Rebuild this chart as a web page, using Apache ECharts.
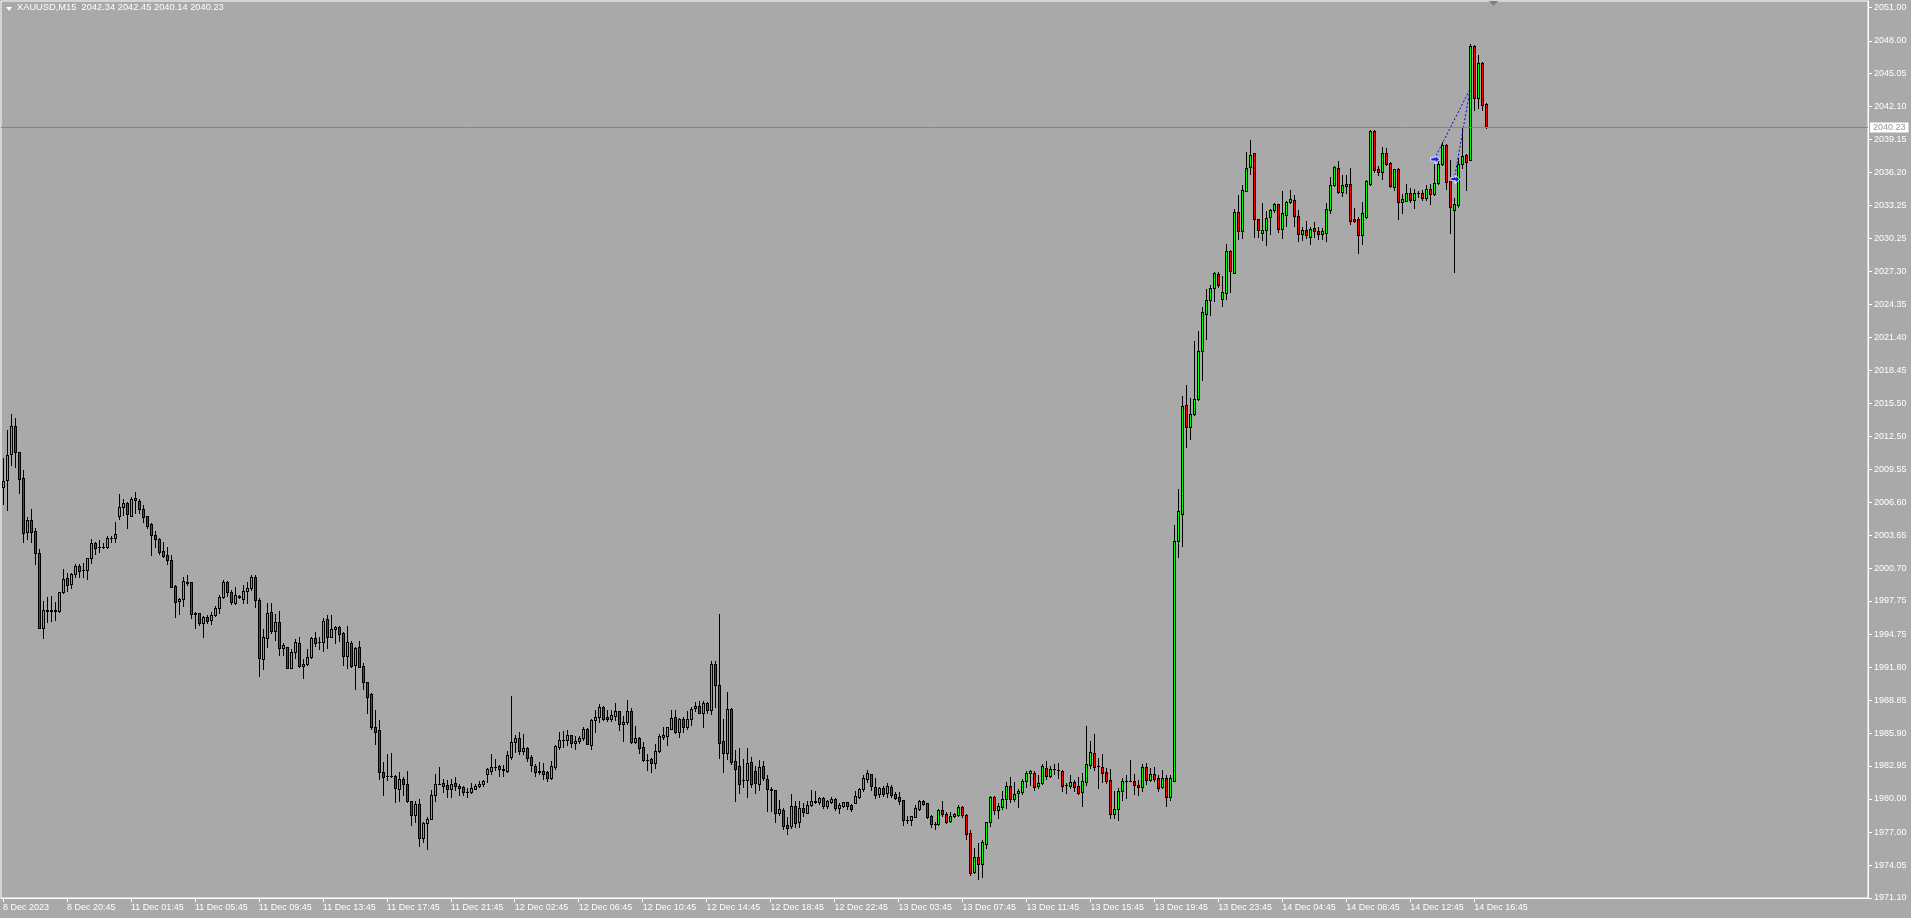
<!DOCTYPE html>
<html>
<head>
<meta charset="utf-8">
<script src="https://cdn.jsdelivr.net/npm/echarts@6/dist/echarts.min.js"></script>
<style>
html,body{margin:0;padding:0;background:#A9A9A9;}
#c{width:1911px;height:918px;}
</style>
</head>
<body>
<div id="c"></div>
<script>
const opens = [
2007.93,2008.56,2010.89,2013.43,2011.07,2008.74,2003.95,2004.97,2004.01,2002.01,
1995.34,1996.87,1996.90,1996.87,1996.81,1998.51,1999.77,1999.23,2000.13,2000.87,
2000.55,2000.49,2001.56,2002.91,2002.58,2002.58,2002.55,2003.36,2003.36,2005.39,
2006.20,2006.58,2005.39,2006.94,2006.70,2005.99,2005.33,2004.64,2003.65,2003.27,
2002.22,2001.86,2001.38,1999.08,1997.71,1997.89,1999.47,1999.44,1996.63,1996.63,
1995.73,1996.30,1996.03,1996.45,1997.08,1998.06,1999.41,1998.51,1997.53,1998.12,
1997.94,1998.63,1998.87,1999.92,1997.83,1992.51,1994.39,1996.72,1995.08,1995.82,
1993.49,1993.58,1991.76,1993.16,1993.97,1991.88,1992.06,1992.69,1994.39,1994.06,
1994.03,1996.09,1994.54,1995.20,1995.38,1994.87,1992.83,1993.97,1991.97,1993.58,
1991.88,1990.44,1989.37,1986.44,1986.14,1982.37,1982.08,1982.08,1982.02,1980.85,
1981.75,1981.30,1979.77,1978.58,1979.50,1976.46,1977.80,1978.16,1980.34,1981.33,
1981.42,1981.24,1980.85,1981.42,1981.15,1981.06,1980.61,1980.64,1980.91,1981.12,
1981.30,1982.19,1982.49,1982.88,1982.91,1982.62,1982.53,1983.72,1985.07,1985.46,
1984.32,1984.56,1983.75,1982.94,1982.44,1982.50,1982.41,1981.90,1982.88,1984.62,
1985.25,1985.25,1985.69,1984.98,1985.16,1985.43,1986.29,1984.86,1987.04,1987.31,
1988.24,1987.34,1987.13,1987.40,1987.85,1986.68,1986.86,1987.88,1985.13,1985.43,
1984.65,1983.48,1983.54,1983.24,1984.26,1985.51,1985.60,1986.29,1987.31,1985.96,
1987.16,1986.47,1987.13,1988.12,1988.30,1987.73,1988.56,1988.00,1992.06,1990.21,
1985.16,1984.14,1988.06,1983.36,1982.91,1981.72,1981.72,1983.27,1982.49,1981.33,
1982.94,1981.75,1980.85,1980.79,1978.70,1978.97,1977.62,1977.56,1979.33,1977.89,
1979.15,1978.76,1979.41,1979.74,1979.68,1980.04,1979.38,1979.74,1979.95,1979.21,
1979.38,1979.68,1979.44,1979.65,1980.13,1980.88,1981.81,1982.22,1981.03,1980.40,
1980.94,1980.49,1981.09,1980.40,1980.13,1979.86,1978.10,1978.07,1978.40,1979.06,
1979.83,1979.62,1978.46,1977.77,1977.77,1978.97,1978.64,1977.98,1978.43,1978.52,
1979.27,1978.55,1976.90,1973.47,1974.78,1974.15,1975.98,1977.89,1980.13,1978.97,
1979.28,1979.95,1981.16,1979.95,1980.49,1980.61,1981.58,1982.29,1982.33,1981.16,
1981.41,1982.75,1982.08,1982.66,1982.58,1982.50,1981.20,1981.16,1981.49,1981.16,
1980.57,1981.54,1983.04,1984.08,1982.91,1982.83,1982.41,1981.66,1978.65,1979.11,
1980.74,1981.58,1981.62,1981.62,1981.28,1981.07,1982.83,1981.70,1982.24,1981.91,
1981.07,1981.91,1980.16,1981.62,2003.13,2005.59,2015.33,2013.36,2014.49,2015.83,
2020.21,2023.51,2024.77,2025.85,2027.06,2024.85,2025.39,2029.15,2027.19,2032.62,
2030.95,2034.54,2036.69,2037.97,2032.05,2030.80,2031.01,2032.20,2032.86,2033.34,
2031.13,2032.41,2033.55,2033.70,2032.26,2030.71,2031.01,2030.44,2031.19,2030.98,
2030.71,2030.80,2032.86,2035.04,2036.60,2034.44,2034.98,2035.19,2032.02,2032.05,
2030.62,2032.23,2035.19,2039.91,2036.54,2036.27,2037.97,2037.04,2034.89,2036.48,
2033.58,2033.64,2034.38,2033.76,2034.32,2034.32,2033.90,2034.74,2034.26,2035.25,
2036.98,2038.69,2035.40,2032.80,2033.28,2036.98,2037.76,2037.34,2047.57,2042.87,
2046.04,2042.34
];
const highs = [
2010.59,2013.07,2014.56,2014.12,2011.10,2009.48,2005.30,2005.99,2004.31,2002.40,
1997.74,1998.12,1998.18,1997.68,1998.57,2000.58,2000.28,2000.28,2001.05,2001.02,
2001.11,2001.62,2003.27,2003.06,2003.21,2002.91,2003.57,2003.57,2004.82,2007.30,
2006.85,2006.64,2007.09,2007.51,2006.91,2006.40,2005.39,2004.76,2004.01,2003.36,
2003.06,2002.58,2001.86,1999.17,1998.04,1999.92,2000.07,1999.47,1996.78,1996.69,
1996.39,1996.48,1996.78,1997.29,1998.27,1999.62,1999.56,1998.72,1999.02,1998.27,
1999.17,1999.47,2000.10,2000.05,1997.98,1995.20,1997.59,1997.53,1996.54,1996.81,
1994.00,1993.64,1993.40,1994.30,1994.51,1992.51,1993.40,1994.54,1994.93,1994.48,
1996.18,1996.48,1996.48,1995.53,1995.50,1994.99,1995.50,1994.15,1993.64,1994.15,
1992.15,1990.50,1989.46,1987.96,1987.07,1983.27,1984.02,1984.08,1982.13,1982.37,
1981.93,1982.49,1979.83,1979.83,1979.98,1977.95,1978.34,1980.79,1982.19,1982.82,
1981.78,1981.69,1981.78,1981.93,1981.33,1981.18,1980.94,1981.39,1981.33,1981.57,
1981.69,1982.73,1984.02,1983.54,1983.00,1983.03,1984.29,1989.22,1985.72,1985.96,
1985.81,1984.68,1983.90,1983.15,1983.27,1983.21,1982.50,1983.39,1984.86,1986.02,
1986.08,1986.17,1985.75,1985.60,1985.60,1986.47,1986.38,1987.19,1987.97,1988.47,
1988.32,1987.97,1987.94,1988.56,1987.85,1987.43,1988.86,1988.12,1986.53,1985.52,
1985.13,1984.02,1983.63,1984.92,1985.78,1986.44,1986.47,1987.97,1987.97,1987.22,
1987.31,1987.91,1988.27,1988.68,1988.77,1988.80,1988.65,1992.36,1992.36,1996.57,
1987.16,1989.55,1988.12,1984.38,1984.53,1983.57,1984.56,1983.72,1982.94,1983.48,
1983.42,1982.14,1981.03,1980.79,1979.89,1979.15,1978.40,1980.43,1979.83,1979.83,
1979.59,1979.83,1980.76,1980.70,1980.19,1980.13,1979.92,1980.19,1980.10,1979.59,
1979.68,1979.74,1979.53,1980.73,1980.94,1982.14,1982.58,1982.22,1981.90,1981.09,
1981.18,1981.42,1981.27,1980.58,1980.64,1979.89,1978.46,1978.46,1979.44,1979.89,
1979.92,1979.62,1978.55,1977.89,1979.09,1979.83,1978.82,1978.79,1978.76,1979.44,
1979.33,1978.64,1977.20,1975.59,1976.07,1976.31,1977.89,1980.28,1980.25,1979.59,
1980.74,1981.49,1981.99,1981.49,1980.86,1981.79,1982.45,1982.62,1982.45,1982.12,
1983.08,1983.37,1982.96,1983.16,1983.24,1982.62,1981.41,1982.12,1981.70,1981.99,
1982.33,1986.51,1985.17,1985.84,1983.66,1984.00,1982.75,1982.66,1980.66,1980.99,
1981.83,1982.12,1983.50,1982.24,1981.70,1983.16,1983.24,1982.75,1982.87,1982.12,
1982.62,1982.12,1982.12,2004.59,2007.81,2016.16,2017.16,2015.95,2021.05,2022.01,
2024.10,2025.77,2026.10,2027.23,2027.23,2026.94,2029.74,2029.24,2032.87,2034.21,
2035.04,2038.01,2039.08,2037.97,2032.05,2033.49,2032.71,2032.89,2033.46,2033.40,
2034.50,2033.61,2034.59,2034.20,2032.86,2031.31,2031.84,2031.31,2031.75,2031.31,
2031.25,2033.46,2035.79,2036.75,2037.19,2035.99,2035.97,2036.63,2033.01,2032.20,
2033.58,2035.49,2040.03,2040.03,2036.75,2038.48,2038.42,2037.13,2036.51,2036.63,
2034.29,2035.19,2034.83,2034.68,2034.50,2034.65,2035.04,2035.19,2036.98,2037.43,
2038.96,2038.78,2037.28,2033.93,2037.52,2040.21,2037.88,2047.68,2047.65,2046.70,
2046.10,2042.45
];
const lows = [
2006.43,2005.90,2009.93,2009.78,2007.39,2003.06,2003.33,2003.06,2001.02,1995.30,
1994.45,1995.88,1995.97,1996.03,1996.80,1998.42,1998.66,1998.93,1999.92,1999.86,
1999.92,1999.74,2001.17,2001.92,2002.16,2002.46,2002.46,2003.06,2003.06,2005.09,
2005.45,2004.31,2005.39,2005.66,2005.60,2004.85,2004.31,2001.89,2002.61,2001.95,
2001.71,2001.02,1999.00,1996.33,1996.60,1997.29,1999.17,1996.18,1995.28,1995.58,
1994.48,1995.73,1995.64,1996.39,1996.63,1997.97,1998.21,1997.47,1997.47,1997.97,
1997.53,1997.53,1998.70,1997.23,1991.04,1991.61,1993.64,1994.90,1994.24,1992.86,
1992.89,1991.70,1991.70,1992.66,1991.85,1990.86,1992.00,1992.60,1993.70,1993.43,
1993.28,1993.55,1994.54,1994.00,1994.18,1992.00,1991.70,1991.79,1989.88,1991.79,
1989.82,1987.72,1986.23,1984.91,1981.78,1980.37,1981.69,1981.99,1979.74,1979.80,
1980.34,1979.74,1977.65,1977.95,1975.80,1976.10,1975.53,1978.16,1979.83,1981.33,
1980.64,1980.13,1980.13,1980.79,1980.31,1980.34,1980.13,1980.49,1980.85,1981.03,
1981.18,1981.48,1982.22,1982.58,1982.07,1982.08,1982.44,1983.60,1984.23,1984.02,
1983.99,1983.39,1982.53,1982.08,1982.23,1981.81,1981.60,1981.78,1982.70,1984.44,
1984.68,1984.83,1984.68,1984.44,1984.98,1985.31,1984.92,1984.50,1986.02,1986.92,
1987.07,1986.98,1986.98,1987.10,1986.20,1985.19,1986.68,1985.04,1985.04,1984.11,
1983.42,1982.59,1982.44,1982.79,1984.20,1985.40,1984.83,1986.23,1985.87,1985.57,
1985.96,1986.23,1986.62,1987.88,1987.67,1986.47,1987.67,1987.61,1988.27,1983.69,
1982.41,1983.60,1983.09,1979.84,1980.49,1981.03,1980.19,1981.09,1980.49,1980.79,
1981.69,1978.94,1978.94,1977.89,1978.55,1977.29,1976.87,1977.38,1977.50,1977.50,
1978.46,1978.70,1979.36,1979.65,1979.53,1979.21,1979.15,1979.65,1978.97,1978.76,
1979.24,1979.12,1978.94,1979.59,1980.10,1980.70,1981.54,1980.79,1980.10,1980.19,
1980.25,1980.19,1980.19,1979.98,1979.53,1977.68,1977.80,1977.68,1978.34,1979.03,
1979.47,1978.28,1977.44,1977.29,1977.68,1978.46,1977.80,1977.89,1978.34,1978.46,
1978.34,1976.43,1973.20,1973.32,1972.84,1973.02,1975.56,1977.59,1978.61,1978.31,
1979.07,1979.20,1979.74,1979.82,1979.28,1980.45,1981.07,1981.20,1980.78,1980.99,
1981.33,1981.79,1981.99,1982.24,1981.83,1980.66,1980.49,1980.99,1980.66,1980.45,
1979.32,1981.28,1982.75,1982.62,1980.99,1981.49,1981.41,1978.24,1978.24,1978.07,
1979.90,1980.11,1981.58,1980.40,1980.36,1980.74,1981.37,1981.58,1981.58,1980.66,
1980.99,1979.32,1979.90,1981.62,2001.67,2002.67,2011.57,2012.32,2014.41,2015.74,
2017.54,2021.26,2023.39,2024.64,2025.94,2024.22,2024.85,2025.43,2027.19,2030.24,
2030.28,2034.50,2036.09,2030.41,2030.41,2030.11,2029.66,2030.65,2032.65,2030.86,
2030.35,2031.37,2033.46,2031.39,2030.05,2030.11,2030.35,2029.81,2030.41,2030.26,
2030.26,2030.05,2032.56,2035.01,2034.35,2034.08,2034.35,2031.60,2031.75,2028.97,
2029.81,2032.14,2035.10,2036.27,2036.00,2035.58,2036.83,2034.89,2034.59,2032.02,
2032.56,2033.61,2033.55,2032.98,2033.99,2033.70,2033.76,2033.37,2034.17,2035.19,
2036.83,2034.74,2030.77,2027.27,2033.10,2036.63,2034.59,2037.28,2041.83,2042.01,
2041.77,2040.14
];
const closes = [
2008.50,2010.83,2013.43,2011.07,2008.71,2003.80,2004.97,2003.95,2002.01,1995.34,
1996.90,1996.90,1996.87,1996.90,1998.51,1999.68,1999.14,2000.19,2000.87,2000.46,
2000.52,2001.56,2002.91,2002.46,2002.58,2002.58,2003.36,2003.39,2003.71,2006.20,
2006.58,2005.51,2006.85,2006.76,2006.02,2005.30,2004.49,2003.68,2003.27,2002.16,
2001.80,2001.38,1999.02,1997.68,1997.92,1999.53,1999.38,1996.54,1996.60,1995.73,
1996.27,1995.97,1996.48,1997.08,1998.06,1999.41,1998.57,1997.62,1998.24,1998.15,
1998.63,1998.93,1999.92,1997.83,1992.60,1994.48,1996.63,1995.08,1995.82,1993.55,
1993.76,1991.76,1993.16,1994.03,1991.88,1992.09,1992.69,1994.39,1994.00,1994.06,
1995.94,1994.54,1995.20,1995.38,1994.81,1992.83,1994.06,1991.94,1993.49,1991.85,
1990.44,1989.10,1986.47,1986.02,1982.43,1981.99,1982.08,1982.08,1980.94,1981.75,
1981.30,1979.77,1978.52,1979.50,1976.46,1977.80,1978.19,1980.34,1981.30,1981.36,
1981.18,1980.85,1981.30,1981.12,1980.94,1980.58,1980.61,1980.94,1981.12,1981.33,
1981.60,1982.67,1982.85,1982.88,1982.64,1982.65,1983.93,1985.07,1985.46,1984.32,
1984.56,1983.69,1983.00,1982.44,1982.47,1982.26,1981.90,1982.91,1984.74,1985.28,
1985.25,1985.69,1984.98,1985.19,1985.49,1986.29,1984.95,1987.07,1987.34,1988.24,
1987.19,1987.13,1987.49,1987.85,1986.68,1986.89,1987.85,1985.13,1985.43,1984.59,
1983.51,1983.48,1983.24,1984.26,1985.63,1985.69,1986.41,1987.25,1985.96,1987.16,
1986.47,1987.16,1988.06,1988.30,1987.73,1988.56,1988.00,1992.06,1990.21,1985.04,
1984.14,1988.06,1983.33,1982.65,1981.36,1981.72,1983.18,1981.33,1981.39,1982.82,
1981.84,1980.85,1980.82,1978.70,1979.06,1977.59,1977.41,1979.33,1977.80,1979.15,
1978.79,1979.44,1979.80,1979.77,1980.04,1979.38,1979.80,1979.98,1979.18,1979.44,
1979.68,1979.36,1979.12,1980.22,1980.85,1981.84,1982.31,1981.12,1980.34,1980.94,
1980.46,1981.15,1980.34,1980.10,1979.83,1978.07,1978.10,1978.43,1979.15,1979.80,
1979.56,1978.34,1977.71,1977.77,1979.00,1978.61,1977.92,1978.46,1978.64,1979.27,
1978.52,1976.87,1973.38,1974.75,1974.18,1976.13,1977.89,1980.16,1978.97,1979.33,
1979.95,1981.16,1979.95,1980.45,1980.66,1981.58,1982.33,1982.45,1981.07,1981.45,
1982.96,1982.04,1982.70,1982.70,1982.54,1981.16,1981.20,1981.49,1981.07,1980.53,
1981.58,1983.08,1984.17,1982.87,1982.91,1982.29,1981.58,1978.65,1979.11,1980.74,
1981.62,1981.58,1981.62,1981.24,1981.03,1982.83,1981.70,1982.24,1981.79,1980.99,
1981.91,1980.16,1981.83,2003.13,2005.84,2015.20,2013.36,2014.49,2015.83,2020.21,
2023.68,2024.77,2025.81,2027.15,2026.10,2025.43,2029.15,2027.36,2032.62,2030.95,
2034.62,2036.63,2037.73,2032.02,2031.01,2031.07,2032.14,2032.86,2033.34,2031.13,
2032.53,2033.58,2033.79,2032.29,2030.71,2031.01,2030.56,2031.16,2030.95,2030.68,
2030.92,2032.89,2035.04,2036.66,2034.44,2035.04,2035.19,2031.87,2031.84,2030.62,
2032.53,2035.40,2039.91,2036.45,2036.27,2037.97,2036.98,2035.01,2036.48,2033.55,
2033.79,2034.38,2033.76,2034.32,2034.32,2033.90,2034.74,2034.26,2035.28,2036.98,
2038.63,2035.34,2033.10,2033.34,2036.98,2037.64,2037.13,2047.57,2042.87,2046.04,
2042.27,2040.23
];
const timeLabels = ['8 Dec 2023','8 Dec 20:45','11 Dec 01:45','11 Dec 05:45','11 Dec 09:45','11 Dec 13:45','11 Dec 17:45','11 Dec 21:45','12 Dec 02:45','12 Dec 06:45','12 Dec 10:45','12 Dec 14:45','12 Dec 18:45','12 Dec 22:45','13 Dec 03:45','13 Dec 07:45','13 Dec 11:45','13 Dec 15:45','13 Dec 19:45','13 Dec 23:45','14 Dec 04:45','14 Dec 08:45','14 Dec 12:45','14 Dec 16:45'];
const barsPerLabel = 16;
const totalSlots = 467;
const priceTicks = [2051.00,2048.00,2045.05,2042.10,2039.15,2036.20,2033.25,2030.25,2027.30,2024.35,2021.40,2018.45,2015.50,2012.50,2009.55,2006.60,2003.65,2000.70,1997.75,1994.75,1991.80,1988.85,1985.90,1982.95,1980.00,1977.00,1974.05,1971.10];
const lastPrice = 2040.23;
const titleText = 'XAUUSD,M15  2042.34 2042.45 2040.14 2040.23';
const tradeEntries = [[358, 2037.37], [363, 2035.58]];
const tradeExit = [367, 2043.70];

const FONT = "'Liberation Sans', Arial, sans-serif";
const BULL = '#00FF00', BEAR = '#FF0000';

const categories = [];
for (let i = 0; i < totalSlots; i++) categories.push(String(i));
const candleData = opens.map((o, i) => [i, o, highs[i], lows[i], closes[i]]);
const isLabelSlot = (idx) => idx % barsPerLabel === 0 && idx / barsPerLabel < timeLabels.length;

function renderCandle(params, api) {
  const i = api.value(0), o = api.value(1), h = api.value(2), l = api.value(3), c = api.value(4);
  const pO = api.coord([i, o]), pC = api.coord([i, c]), pH = api.coord([i, h]), pL = api.coord([i, l]);
  const cx = Math.round(pO[0]);
  const yH = Math.round(pH[1]), yL = Math.round(pL[1]);
  const yT = Math.round(Math.min(pO[1], pC[1])), yB = Math.round(Math.max(pO[1], pC[1]));
  const col = c >= o ? BULL : BEAR;
  const children = [
    {type: 'rect', shape: {x: cx, y: yH, width: 1, height: yL - yH + 1}, style: {fill: '#000'}},
    {type: 'rect', shape: {x: cx - 1, y: yT, width: 3, height: yB - yT + 1}, style: {fill: '#000'}}
  ];
  if (yB - yT >= 2) {
    children.push({type: 'rect', shape: {x: cx, y: yT + 1, width: 1, height: yB - yT - 1}, style: {fill: col}});
  }
  return {type: 'group', children: children};
}

const chart = echarts.init(document.getElementById('c'), null, {renderer: 'canvas'});
const arrowPath = 'path://M0,3 L5,3 L5,0 L10,5 L5,10 L5,7 L0,7 Z';
chart.setOption({
  backgroundColor: '#A9A9A9',
  animation: false,
  grid: {left: 0, right: 43, top: 1, bottom: 20, show: true, borderColor: '#FFFFFF', borderWidth: 1},
  xAxis: {
    type: 'category', data: categories, boundaryGap: true,
    axisLine: {show: true, lineStyle: {color: '#FFFFFF', width: 1}},
    axisTick: {show: true, interval: isLabelSlot, alignWithLabel: true, length: 4, lineStyle: {color: '#FFFFFF'}},
    axisLabel: {show: true, interval: isLabelSlot, formatter: (v, idx) => timeLabels[Math.round(idx / barsPerLabel)] || '',
      align: 'left', color: '#FFFFFF', fontSize: 9, fontFamily: FONT, margin: 5},
    splitLine: {show: false}
  },
  yAxis: {
    type: 'value', position: 'right', min: 1971.10, max: 2051.57, scale: true,
    axisLine: {show: true, lineStyle: {color: '#FFFFFF', width: 1}},
    axisTick: {show: true, customValues: priceTicks, length: 4, lineStyle: {color: '#FFFFFF'}},
    axisLabel: {show: true, customValues: priceTicks, formatter: v => Number(v).toFixed(2), color: '#FFFFFF', fontSize: 9, fontFamily: FONT, margin: 6},
    splitLine: {show: false}
  },
  series: [
    {
      type: 'custom', name: 'XAUUSD', renderItem: renderCandle, data: candleData,
      encode: {x: 0, y: [1, 2, 3, 4]}, silent: true, clip: false,
      markLine: {
        silent: true, symbol: 'none', animation: false,
        data: [{yAxis: lastPrice}],
        lineStyle: {color: '#778899', width: 1, type: 'solid'},
        label: {show: true, position: 'end', formatter: lastPrice.toFixed(2), color: '#8E9AA6', backgroundColor: '#FFFFFF',
          padding: [1, 3, 0, 3], fontSize: 9, fontFamily: FONT, distance: 2}
      }
    },
    {
      type: 'line', data: [tradeEntries[0], tradeExit], symbol: 'none', silent: true,
      lineStyle: {color: '#0000FF', width: 1, type: [2, 2]}
    },
    {
      type: 'line', data: [tradeEntries[1], tradeExit], symbol: 'none', silent: true,
      lineStyle: {color: '#0000FF', width: 1, type: [2, 2]}
    },
    {
      type: 'scatter', data: tradeEntries, symbol: arrowPath, symbolSize: [9, 8], symbolOffset: [1, 0], silent: true,
      itemStyle: {color: '#0000FF', borderColor: '#FFFFFF', borderWidth: 1}
    }
  ],
  graphic: [
    {type: 'polygon', shape: {points: [[6, 7], [12, 7], [9, 11]]}, style: {fill: '#FFFFFF'}},
    {type: 'text', left: 17, top: 3, style: {text: titleText, fill: '#FFFFFF', font: '9.3px ' + FONT}},
    {type: 'polygon', shape: {points: [[1489, 1], [1498, 1], [1493.5, 6]]}, style: {fill: '#808080'}}
  ]
});
</script>
</body>
</html>
